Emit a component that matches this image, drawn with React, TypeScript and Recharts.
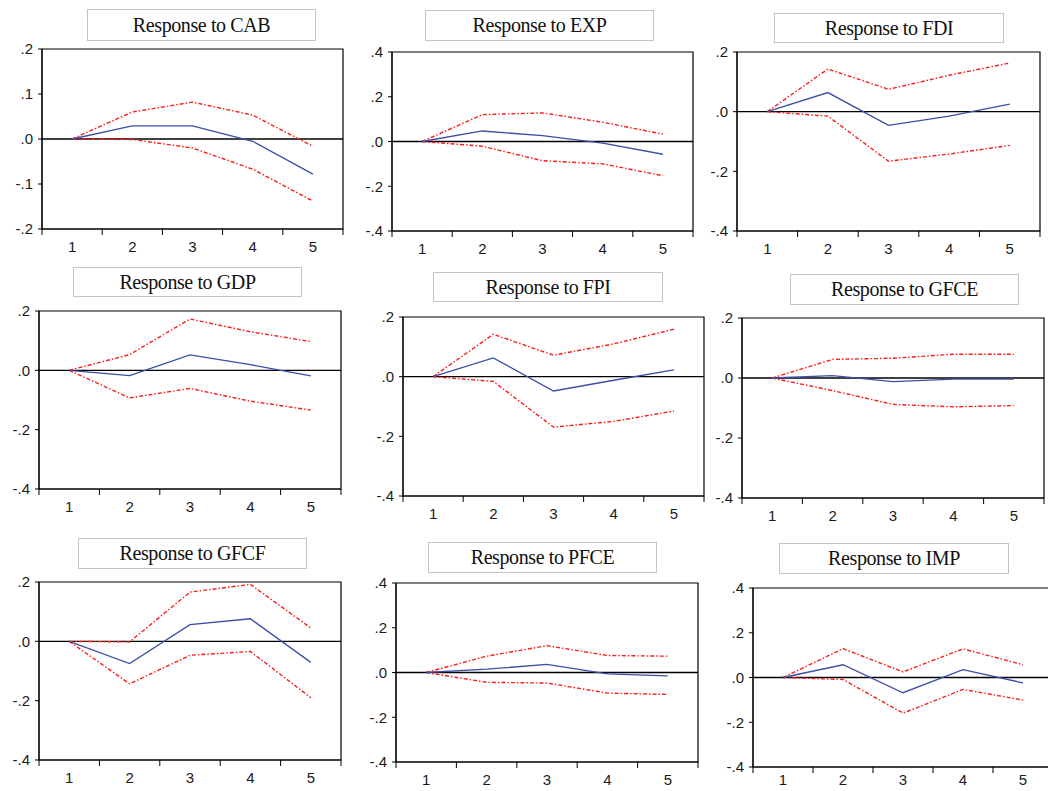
import { LineChart, Line, XAxis, YAxis, ReferenceLine, ReferenceArea } from "recharts";

const periods = [1, 2, 3, 4, 5];

const cabResp = [0, 0.029, 0.029, -0.005, -0.078];
const cabUpper = [0, 0.06, 0.082, 0.053, -0.016];
const cabLower = [0, -0.001, -0.02, -0.067, -0.138];

const expResp = [0, 0.047, 0.026, -0.007, -0.057];
const expUpper = [0, 0.12, 0.128, 0.086, 0.033];
const expLower = [0, -0.021, -0.086, -0.1, -0.153];

const fdiResp = [0, 0.064, -0.046, -0.015, 0.025];
const fdiUpper = [0, 0.143, 0.075, 0.122, 0.163];
const fdiLower = [0, -0.015, -0.166, -0.142, -0.113];

const gdpResp = [0, -0.018, 0.052, 0.019, -0.019];
const gdpUpper = [0, 0.053, 0.173, 0.13, 0.097];
const gdpLower = [0, -0.093, -0.061, -0.104, -0.134];

const fpiResp = [0, 0.063, -0.048, -0.012, 0.023];
const fpiUpper = [0, 0.142, 0.072, 0.11, 0.159];
const fpiLower = [0, -0.016, -0.169, -0.15, -0.115];

const gfceResp = [0, 0.008, -0.012, -0.004, -0.004];
const gfceUpper = [0, 0.062, 0.066, 0.079, 0.079];
const gfceLower = [0, -0.042, -0.088, -0.096, -0.092];

const gfcfResp = [0, -0.075, 0.056, 0.076, -0.071];
const gfcfUpper = [0, -0.002, 0.166, 0.192, 0.045];
const gfcfLower = [0, -0.143, -0.047, -0.034, -0.19];

const pfceResp = [0, 0.015, 0.036, -0.006, -0.015];
const pfceUpper = [0, 0.073, 0.12, 0.076, 0.073];
const pfceLower = [0, -0.044, -0.047, -0.092, -0.098];

const impResp = [0, 0.057, -0.068, 0.035, -0.024];
const impUpper = [0, 0.129, 0.025, 0.128, 0.057];
const impLower = [0, -0.009, -0.159, -0.053, -0.101];

const ticksSmall = [-0.2, -0.1, 0, 0.1, 0.2];
const ticksMid = [-0.4, -0.2, 0, 0.2];
const ticksWide = [-0.4, -0.2, 0, 0.2, 0.4];
const xTicks = [0.5, 1, 1.5, 2, 2.5, 3, 3.5, 4, 4.5, 5, 5.5];

type Panel = {
  title: string;
  resp: number[];
  upper: number[];
  lower: number[];
  yTicks: number[];
  plot: [number, number, number, number]; // left, top, right, bottom
  box: [number, number, number, number];
  labelDy?: number;
};

const panels: Panel[] = [
  { title: "Response to CAB", resp: cabResp, upper: cabUpper, lower: cabLower, yTicks: ticksSmall, plot: [42, 49, 343, 229], box: [87, 9, 316, 41] },
  { title: "Response to EXP", resp: expResp, upper: expUpper, lower: expLower, yTicks: ticksWide, plot: [392, 52, 693, 231], box: [425, 10, 654, 41] },
  { title: "Response to FDI", resp: fdiResp, upper: fdiUpper, lower: fdiLower, yTicks: ticksMid, plot: [737, 52, 1040, 231], box: [774, 13, 1004, 43] },
  { title: "Response to GDP", resp: gdpResp, upper: gdpUpper, lower: gdpLower, yTicks: ticksMid, plot: [39, 311, 341, 489], box: [73, 267, 302, 297] },
  { title: "Response to FPI", resp: fpiResp, upper: fpiUpper, lower: fpiLower, yTicks: ticksMid, plot: [403, 317, 704, 496], box: [433, 272, 663, 302] },
  { title: "Response to GFCE", resp: gfceResp, upper: gfceUpper, lower: gfceLower, yTicks: ticksMid, plot: [742, 318, 1044, 498], box: [790, 274, 1019, 305] },
  { title: "Response to GFCF", resp: gfcfResp, upper: gfcfUpper, lower: gfcfLower, yTicks: ticksMid, plot: [39, 582, 341, 760], box: [78, 538, 307, 569] },
  { title: "Response to PFCE", resp: pfceResp, upper: pfceUpper, lower: pfceLower, yTicks: ticksWide, plot: [396, 583, 698, 762], box: [428, 542, 657, 573] },
  { title: "Response to IMP", resp: impResp, upper: impUpper, lower: impLower, yTicks: ticksWide, plot: [753, 588, 1053, 767], box: [779, 543, 1009, 574], labelDy: 18 },
];

const fmt = (v: number) => (v < -1e-9 ? "-" : "") + Math.abs(v).toFixed(1).slice(1);

const labelFont = "'Liberation Sans', Arial, sans-serif";

// integer positions get the period label, half positions get the tick mark
const XTick = (props: any) => {
  const { x, y, payload, labelDy } = props;
  const v = payload.value;
  if (Number.isInteger(v)) {
    return (
      <text x={x} y={y + (labelDy ?? 23)} textAnchor="middle" fontSize={15} fontFamily={labelFont} fill="#1a1a1a">
        {v}
      </text>
    );
  }
  return <line x1={x} x2={x} y1={y} y2={y + 6} stroke="#000" strokeWidth={1} />;
};

const ML = 45;
const MT = 10;
const MR = 10;
const XH = 30;

function IrfPanel({ p }: { p: Panel }) {
  const [l, t, r, b] = p.plot;
  const data = periods.map((x, i) => ({ x, resp: p.resp[i], upper: p.upper[i], lower: p.lower[i] }));
  const yMin = p.yTicks[0];
  const yMax = p.yTicks[p.yTicks.length - 1];
  const [bl, bt, br, bb] = p.box;
  return (
    <>
      <div
        style={{
          position: "absolute",
          left: bl,
          top: bt,
          width: br - bl,
          height: bb - bt,
          boxSizing: "border-box",
          border: "1px solid #c4c4c4",
          background: "#fff",
          display: "flex",
          alignItems: "center",
          justifyContent: "center",
          fontFamily: "'Liberation Serif', 'Times New Roman', serif",
          fontSize: 20,
          color: "#111",
          letterSpacing: -0.4,
        }}
      >
        {p.title}
      </div>
      <div style={{ position: "absolute", left: l - ML, top: t - MT }}>
        <LineChart
          width={r - l + ML + MR}
          height={b - t + MT + XH}
          data={data}
          margin={{ top: MT, right: MR, bottom: 0, left: 0 }}
        >
          <XAxis
            dataKey="x"
            type="number"
            domain={[0.5, 5.5]}
            ticks={xTicks}
            interval={0}
            height={XH}
            tickLine={false}
            tickSize={0}
            tickMargin={0}
            tick={<XTick labelDy={p.labelDy} />}
            axisLine={{ stroke: "#000" }}
          />
          <YAxis
            type="number"
            domain={[yMin, yMax]}
            ticks={p.yTicks}
            interval={0}
            width={ML}
            allowDataOverflow
            tickFormatter={fmt}
            tickSize={4}
            tickMargin={5}
            tickLine={{ stroke: "#000" }}
            axisLine={{ stroke: "#000" }}
            tick={{ fontSize: 15, fontFamily: labelFont, fill: "#1a1a1a" }}
          />
          <ReferenceArea x1={0.5} x2={5.5} y1={yMin} y2={yMax} fill="none" stroke="#000" strokeWidth={1.2} />
          <ReferenceLine y={0} stroke="#000" strokeWidth={1.3} />
          <Line type="linear" dataKey="upper" stroke="#ff1a1a" strokeWidth={1.4} strokeDasharray="4 2 1.5 2" dot={false} isAnimationActive={false} />
          <Line type="linear" dataKey="lower" stroke="#ff1a1a" strokeWidth={1.4} strokeDasharray="4 2 1.5 2" dot={false} isAnimationActive={false} />
          <Line type="linear" dataKey="resp" stroke="#3a4fa6" strokeWidth={1.3} dot={false} isAnimationActive={false} />
        </LineChart>
      </div>
    </>
  );
}

export default function App() {
  return (
    <div
      style={{
        position: "absolute",
        left: 0,
        top: 0,
        width: 1048,
        height: 791,
        overflow: "hidden",
        background: "#fff",
      }}
    >
      {panels.map((p) => (
        <IrfPanel key={p.title} p={p} />
      ))}
    </div>
  );
}
